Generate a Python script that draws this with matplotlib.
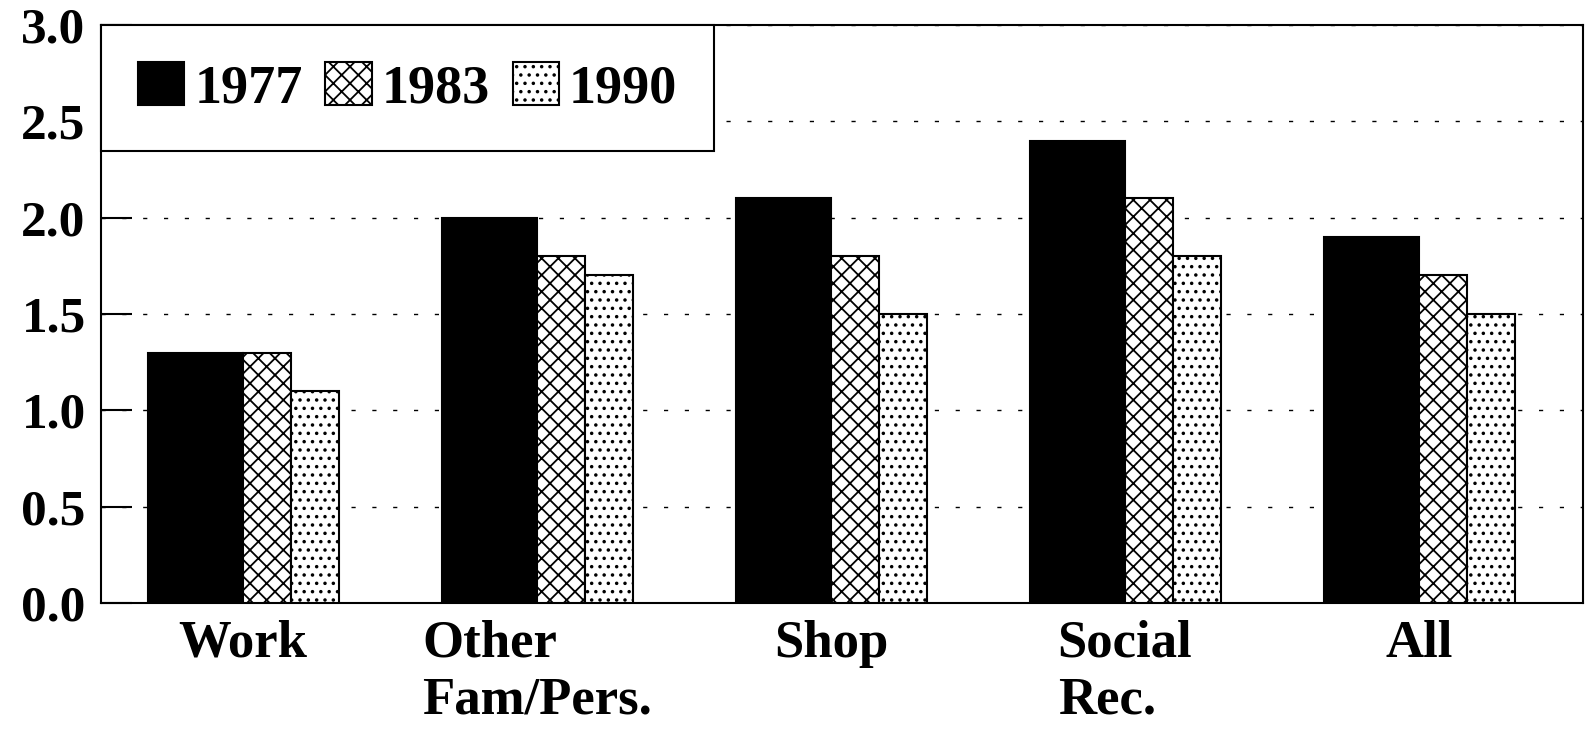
import matplotlib.pyplot as plt
import numpy as np

plt.rcParams['font.family'] = ['Liberation Serif', 'DejaVu Serif']
plt.rcParams['font.weight'] = 'bold'
plt.rcParams['hatch.linewidth'] = 1.3

# data
categories = ['Work', 'Other\nFam/Pers.', 'Shop', 'Social\nRec.', 'All']
years = ['1977', '1983', '1990']
v1977 = [1.3, 2.0, 2.1, 2.4, 1.9]
v1983 = [1.3, 1.8, 1.8, 2.1, 1.7]
v1990 = [1.1, 1.7, 1.5, 1.8, 1.5]

x = np.arange(len(categories))
w_wide = 0.323
w_narrow = 0.163

fig = plt.figure(figsize=(15.85, 7.36), dpi=100)
ax = fig.add_axes([0.0637, 0.1807, 0.935, 0.7853])

# 1977 solid bar left of the tick, 1983 / 1990 narrow hatched bars right of it
ax.bar(x - w_wide, v1977, w_wide, align='edge', color='black',
       edgecolor='black', linewidth=1.5, label=years[0], zorder=3)
ax.bar(x, v1983, w_narrow, align='edge', color='white', hatch='xx',
       edgecolor='black', linewidth=1.5, label=years[1], zorder=3)
ax.bar(x + w_narrow, v1990, w_narrow, align='edge', color='white', hatch='..',
       edgecolor='black', linewidth=1.5, label=years[2], zorder=3)

ax.set_xlim(-0.483, 4.558)
ax.set_ylim(0, 3.0)
ticks = np.arange(0, 3.01, 0.5)
ax.set_yticks(ticks)
ax.set_yticklabels([f'{v:.1f}' for v in ticks])
ax.set_xticks(x)
ax.set_xticklabels(categories, multialignment='left', linespacing=1.25)

ax.tick_params(axis='y', direction='in', length=22, width=1.5, pad=11, labelsize=37)
ax.tick_params(axis='x', length=0, pad=12, labelsize=38)

ax.yaxis.grid(True, color='black', linewidth=1, linestyle=(0, (3, 12)), zorder=1)
ax.set_axisbelow(True)

for s in ax.spines.values():
    s.set_linewidth(1.5)
    s.set_color('black')

leg = ax.legend(loc='upper left', ncol=3, fontsize=39, frameon=True,
                fancybox=False, edgecolor='black', framealpha=1,
                borderaxespad=0, handlelength=0.86, handleheight=0.86,
                handletextpad=0.18, columnspacing=0.42, borderpad=0.68)
leg.get_frame().set_linewidth(1.5)

fig.savefig('out.png', dpi=100)
